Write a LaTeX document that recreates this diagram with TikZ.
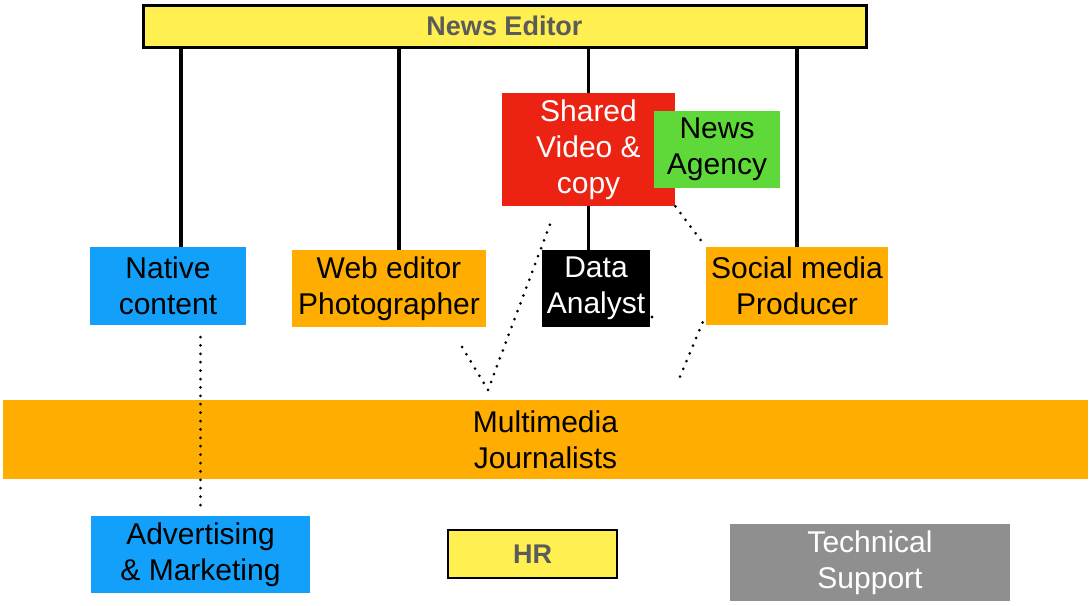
\documentclass[tikz,border=0pt]{standalone}
\usepackage{fontspec}
\setmainfont{Liberation Sans}
\usepackage{tikz}
\usetikzlibrary{calc}

\definecolor{edyellow}{HTML}{FFEF50}
\definecolor{sharedred}{HTML}{EC2313}
\definecolor{agencygreen}{HTML}{5FD93A}
\definecolor{nativeblue}{HTML}{12A0FA}
\definecolor{stafforange}{HTML}{FFAD00}
\definecolor{supportgray}{HTML}{8F8F8F}
\definecolor{labelgray}{HTML}{5B5B5B}

\begin{document}
\begin{tikzpicture}[x=0.5pt, y=-0.5pt,
  box/.style 2 args={inner sep=0pt, align=center, minimum width=#1*0.5pt, minimum height=#2*0.5pt,
    font=\fontsize{15}{18}\selectfont},
  headbox/.style={fill=edyellow, draw=black, line width=1.5pt, text=labelgray,
    font=\fontsize{13.5}{16}\selectfont\bfseries},
  stem/.style={line width=1.8pt, black},
  dots/.style={line width=1.5pt, line cap=round, dash pattern=on 0pt off 4.2pt}]
\useasboundingbox (0,0) rectangle (1092,605);

\node [box={723}{42}, headbox] (editor) at (504.5,26) {News Editor};
\node [box={173}{113}, fill=sharedred, text=white] (shared) at (588.5,149.5) {Shared\\Video \&\\copy};
\node [box={126}{77}, fill=agencygreen] (agency) at (717,149.5) {News\\Agency};
\node [box={156}{78}, fill=nativeblue] (native) at (168,286) {Native\\content};
\node [box={194}{77}, fill=stafforange] (web) at (389,288.5) {Web editor\\Photographer};
\node [box={108}{77}, fill=black, text=white] (data) at (596,288.5) {Data\\Analyst};
\node [box={182}{78}, fill=stafforange] (social) at (797,286) {Social media\\Producer};
\node [box={1085}{79}, fill=stafforange] (mmj) at (545.5,439.5) {Multimedia\\Journalists};
\node [box={219}{77}, fill=nativeblue] (adv) at (200.5,554.5) {Advertising\\\& Marketing};
\node [box={169}{48}, headbox, line width=1.2pt] (hr) at (532.5,554) {HR};
\node [box={280}{77}, fill=supportgray, text=white] (tech) at (870,562.5) {Technical\\Support};

\coordinate (nativetop) at ($(native.north)+(13,0)$);
\coordinate (webtop) at ($(web.north)+(10,0)$);
\draw [stem] (editor.south -| nativetop) -- (nativetop);
\draw [stem] (editor.south -| webtop) -- (webtop);
\draw [stem] (editor.south -| shared.north) -- (shared.north);
\draw [stem] (shared.south) -- (shared.south |- data.north);
\draw [stem] (editor.south -| social.north) -- (social.north);

\coordinate (advtop) at ($(adv.north)+(0,-8)$);
\coordinate (nativelow) at (advtop |- 0,337);
\coordinate (webfoot) at (462,347);
\coordinate (vtip) at (488,390);
\coordinate (sharedfoot) at (552,219);
\coordinate (mmjtop) at (677,384);
\draw [dots] (nativelow) -- (advtop);
\draw [dots] (webfoot) -- (vtip) -- (sharedfoot);
\draw [dots] (shared.south east) -- (social.north west);
\draw [dots] ($(social.south west)+(-3,-3)$) -- (mmjtop);
\fill ($(data.east)+(1.5,28.5)$) circle (0.8pt);
\end{tikzpicture}
\end{document}
